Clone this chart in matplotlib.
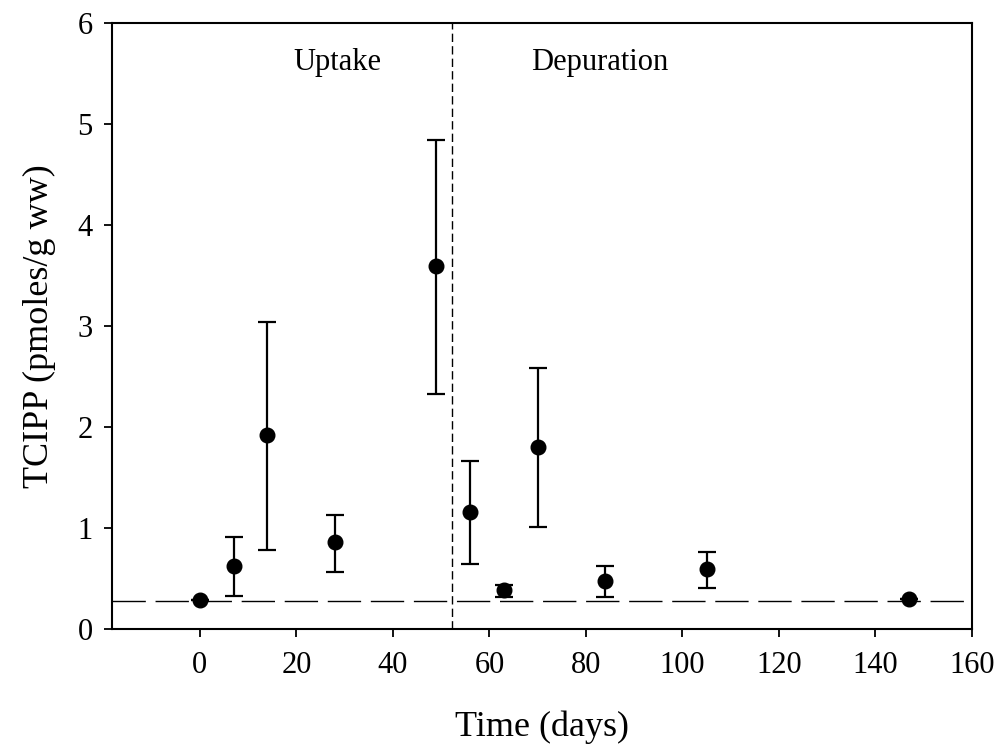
import matplotlib.pyplot as plt

days = [0, 7, 14, 28, 49, 56, 63, 70, 84, 105, 147]
tcipp = [0.29, 0.627, 1.92, 0.857, 3.59, 1.16, 0.383, 1.805, 0.478, 0.594, 0.294]
err_low = [0.29, 0.33, 0.78, 0.56, 2.33, 0.64, 0.32, 1.01, 0.32, 0.41, 0.294]
err_high = [0.29, 0.908, 3.04, 1.127, 4.84, 1.66, 0.435, 2.584, 0.62, 0.762, 0.294]
baseline = 0.275
switch_day = 52.3

plt.rcParams['font.family'] = ['Liberation Serif', 'DejaVu Serif']

fig = plt.figure(figsize=(10.02, 7.56), dpi=100)
ax = fig.add_axes([0.1118, 0.168, 0.8582, 0.8016])

lo = [t - l for t, l in zip(tcipp, err_low)]
hi = [h - t for t, h in zip(tcipp, err_high)]
ax.errorbar(days, tcipp, yerr=[lo, hi], fmt='o', color='black', ms=10.5,
            elinewidth=1.6, capsize=6.5, capthick=1.6, zorder=3)

ax.axhline(baseline, color='black', lw=1, dashes=(24, 7))
ax.axvline(switch_day, color='black', lw=1, dashes=(6, 3))

ax.text(28.6, 5.61, 'Uptake', fontsize=22, ha='center', va='center')
ax.text(82.9, 5.61, 'Depuration', fontsize=22, ha='center', va='center')

ax.set_xlim(-18.2, 160)
ax.set_ylim(0, 6)
ax.set_xticks(range(0, 161, 20))
ax.set_yticks(range(0, 7))
ax.tick_params(direction='out', length=6, width=1.3, labelsize=22)
ax.tick_params(axis='x', pad=10)
ax.tick_params(axis='y', pad=8)
for s in ax.spines.values():
    s.set_linewidth(1.5)

ax.set_xlabel('Time (days)', fontsize=26, labelpad=22)
ax.set_ylabel('TCIPP (pmoles/g ww)', fontsize=26, labelpad=15)

fig.savefig('out.png', dpi=100)
